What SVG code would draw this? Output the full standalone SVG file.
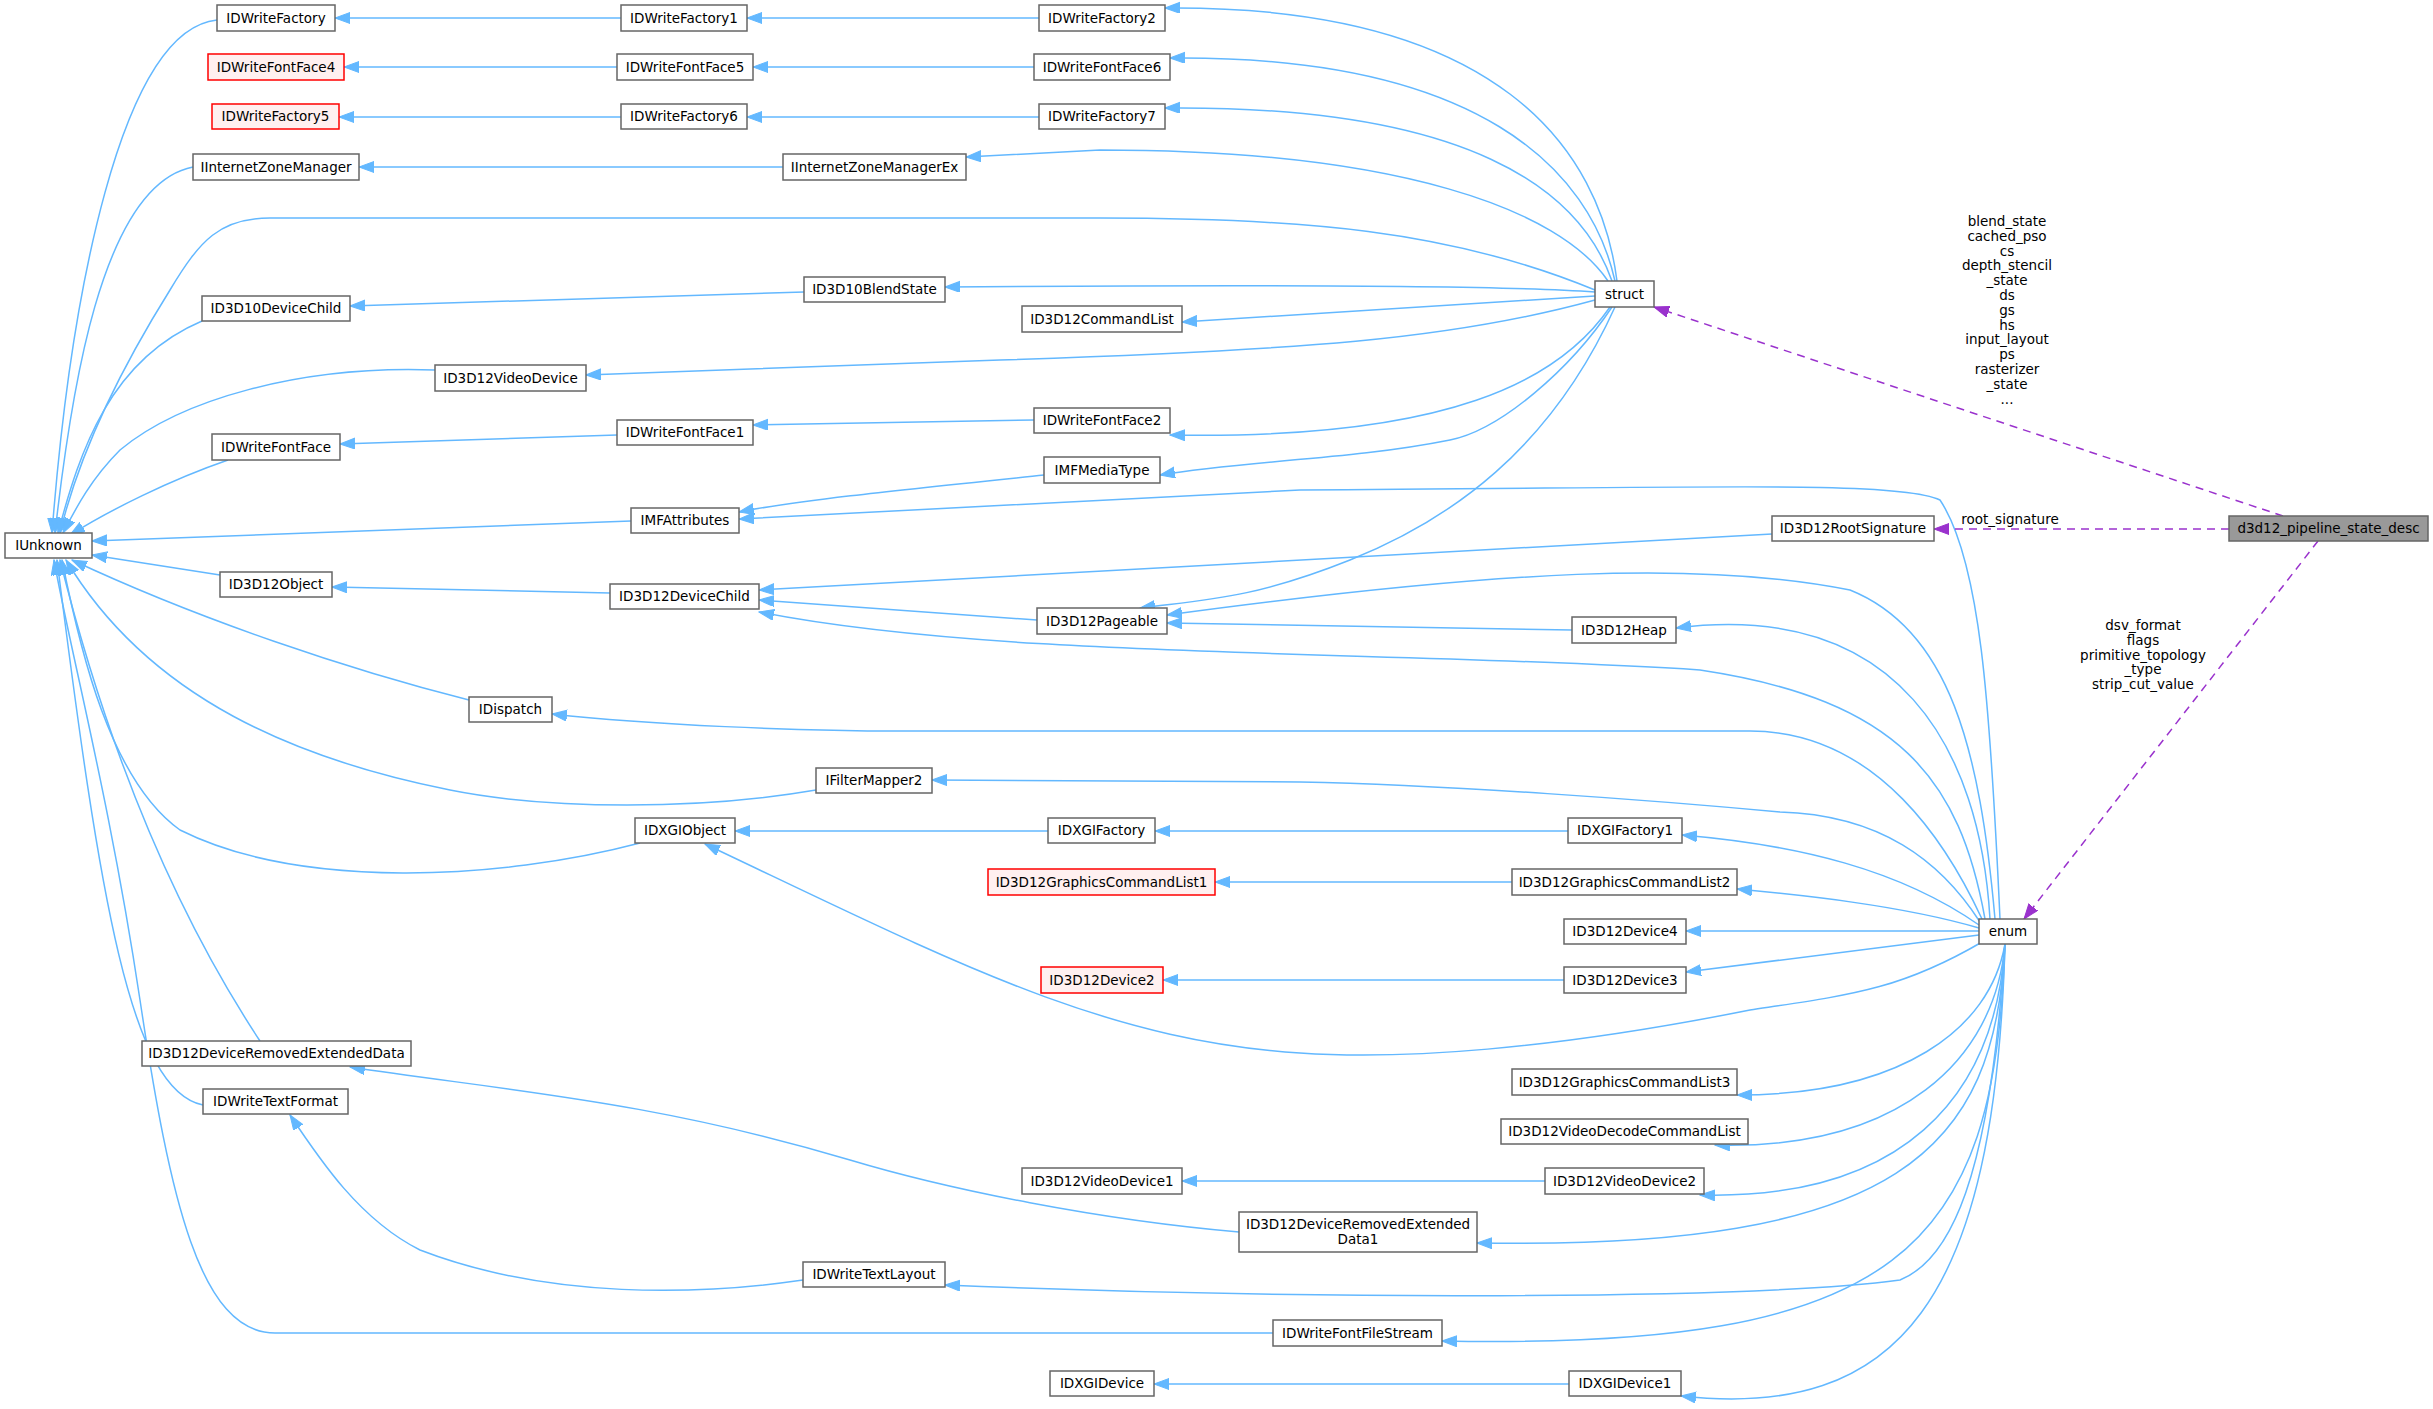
<svg xmlns="http://www.w3.org/2000/svg" width="2433" height="1409" viewBox="0 0 2433 1409">
<style>
.n rect{fill:#fff;stroke:#666;stroke-width:1.5}
.n.r rect{fill:#fff0f0;stroke:#f00}
.n.g rect{fill:#999;stroke:#666}
text{font-family:"DejaVu Sans",sans-serif;font-size:13.5px;fill:#000;text-anchor:middle}
.e path{fill:none;stroke:#63b8ff;stroke-width:1.5}
.d path{fill:none;stroke:#9a32cd;stroke-width:1.5;stroke-dasharray:8,6}
</style>
<defs>
<marker id="a" markerUnits="userSpaceOnUse" markerWidth="16" markerHeight="12" refX="15" refY="5.5" orient="auto"><path d="M0,0 L15,5.5 L0,11 z" fill="#63b8ff" stroke="#63b8ff"/></marker>
<marker id="p" markerUnits="userSpaceOnUse" markerWidth="16" markerHeight="12" refX="15" refY="5.5" orient="auto"><path d="M0,0 L15,5.5 L0,11 z" fill="#9a32cd" stroke="#9a32cd"/></marker>
</defs>
<g class="e" marker-end="url(#a)">
<path d="M217,20 C120,30 70,300 52,533" marker-end="url(#a)"/>
<path d="M193,167 C100,185 70,400 55,533" marker-end="url(#a)"/>
<path d="M1595,290 C1450,230 1300,218 1100,218 L270,218 C220,218 200,240 170,290 C120,370 80,450 60,533" marker-end="url(#a)"/>
<path d="M202,321 C110,360 80,450 58,533" marker-end="url(#a)"/>
<path d="M435,370 C300,365 180,400 120,450 C90,480 75,510 63,533" marker-end="url(#a)"/>
<path d="M228,460 C170,480 110,510 70,535" marker-end="url(#a)"/>
<path d="M631,521 L92,541" marker-end="url(#a)"/>
<path d="M220,575 L92,555" marker-end="url(#a)"/>
<path d="M469,700 C350,670 200,620 72,560" marker-end="url(#a)"/>
<path d="M816,790 C700,810 550,810 450,790 C300,760 150,700 66,560" marker-end="url(#a)"/>
<path d="M640,843 C500,880 300,890 180,830 C110,780 80,650 62,560" marker-end="url(#a)"/>
<path d="M260,1041 C200,950 120,800 60,560" marker-end="url(#a)"/>
<path d="M203,1105 C130,1090 100,900 57,560" marker-end="url(#a)"/>
<path d="M1273,1333 L275,1333 C200,1333 170,1200 140,1000 C110,800 70,650 54,560" marker-end="url(#a)"/>
<path d="M621,18 L335,18" marker-end="url(#a)"/>
<path d="M1039,18 L747,18" marker-end="url(#a)"/>
<path d="M617,67 L344,67" marker-end="url(#a)"/>
<path d="M1034,67 L753,67" marker-end="url(#a)"/>
<path d="M621,117 L339,117" marker-end="url(#a)"/>
<path d="M1039,117 L747,117" marker-end="url(#a)"/>
<path d="M783,167 L359,167" marker-end="url(#a)"/>
<path d="M804,292 L350,306" marker-end="url(#a)"/>
<path d="M617,435 L340,444" marker-end="url(#a)"/>
<path d="M610,593 L332,587" marker-end="url(#a)"/>
<path d="M1048,831 L735,831" marker-end="url(#a)"/>
<path d="M1568,831 L1155,831" marker-end="url(#a)"/>
<path d="M1512,882 L1215,882" marker-end="url(#a)"/>
<path d="M1564,980 L1163,980" marker-end="url(#a)"/>
<path d="M1545,1181 L1182,1181" marker-end="url(#a)"/>
<path d="M1569,1384 L1154,1384" marker-end="url(#a)"/>
<path d="M1239,1232 C1100,1220 950,1190 850,1160 C650,1100 500,1090 350,1067" marker-end="url(#a)"/>
<path d="M803,1280 C700,1295 550,1300 420,1250 C360,1220 320,1160 290,1115" marker-end="url(#a)"/>
<path d="M1044,475 C900,490 800,500 739,512" marker-end="url(#a)"/>
<path d="M1772,534 L759,590" marker-end="url(#a)"/>
<path d="M1037,620 L759,600" marker-end="url(#a)"/>
<path d="M1572,630 L1167,623" marker-end="url(#a)"/>
<path d="M1034,420 L753,425" marker-end="url(#a)"/>
<path d="M1617,281 C1600,150 1500,5 1165,8" marker-end="url(#a)"/>
<path d="M1615,281 C1590,170 1480,55 1170,58" marker-end="url(#a)"/>
<path d="M1612,281 C1580,190 1470,105 1165,108" marker-end="url(#a)"/>
<path d="M1608,281 C1560,210 1400,150 1100,150 L966,157" marker-end="url(#a)"/>
<path d="M1595,292 C1500,285 1200,285 945,287" marker-end="url(#a)"/>
<path d="M1595,296 L1182,322" marker-end="url(#a)"/>
<path d="M1595,300 C1450,340 1300,350 1000,360 L586,375" marker-end="url(#a)"/>
<path d="M1610,307 C1560,380 1450,440 1170,435" marker-end="url(#a)"/>
<path d="M1612,307 C1570,370 1500,430 1450,440 C1350,460 1250,460 1160,475" marker-end="url(#a)"/>
<path d="M1615,307 C1550,450 1450,520 1350,560 C1250,600 1200,600 1140,608" marker-end="url(#a)"/>
<path d="M2000,919 C1990,700 1980,560 1940,500 C1900,480 1700,488 1300,490 L739,519" marker-end="url(#a)"/>
<path d="M1995,919 C1980,750 1950,630 1850,590 C1700,560 1500,570 1167,615" marker-end="url(#a)"/>
<path d="M1990,919 C1980,750 1900,600 1676,628" marker-end="url(#a)"/>
<path d="M1985,919 C1960,780 1900,700 1700,670 C1400,650 1000,660 759,612" marker-end="url(#a)"/>
<path d="M1982,919 C1950,850 1880,731 1750,731 L900,731 C800,731 650,725 552,714" marker-end="url(#a)"/>
<path d="M1980,922 C1940,860 1880,815 1780,812 C1650,800 1450,785 1300,782 L932,780" marker-end="url(#a)"/>
<path d="M1979,925 C1900,870 1800,845 1682,835" marker-end="url(#a)"/>
<path d="M1979,928 C1900,905 1800,895 1737,889" marker-end="url(#a)"/>
<path d="M1979,931 L1686,931" marker-end="url(#a)"/>
<path d="M1979,935 L1686,972" marker-end="url(#a)"/>
<path d="M1982,942 C1900,990 1850,995 1750,1010 C1550,1050 1400,1060 1300,1053 C1100,1040 950,960 705,844" marker-end="url(#a)"/>
<path d="M2005,944 C1990,1030 1900,1095 1737,1095" marker-end="url(#a)"/>
<path d="M2005,944 C1995,1060 1900,1150 1715,1145" marker-end="url(#a)"/>
<path d="M2005,944 C1995,1100 1900,1200 1700,1195" marker-end="url(#a)"/>
<path d="M2005,944 C1995,1150 1900,1250 1477,1243" marker-end="url(#a)"/>
<path d="M2005,944 C1990,1180 1950,1260 1900,1280 C1750,1300 1300,1300 945,1285" marker-end="url(#a)"/>
<path d="M2005,944 C1995,1250 1900,1350 1442,1341" marker-end="url(#a)"/>
<path d="M2005,944 C1995,1300 1900,1420 1681,1396" marker-end="url(#a)"/>
</g>
<g class="d">
<path d="M2283,516 L1654,307" marker-end="url(#p)"/>
<path d="M2229,529 L1934,529" marker-end="url(#p)"/>
<path d="M2318,541 L2024,919" marker-end="url(#p)"/>
</g>
<g id="labels">
<text x="2007" y="226">blend_state</text><text x="2007" y="241">cached_pso</text><text x="2007" y="256">cs</text><text x="2007" y="270">depth_stencil</text><text x="2007" y="285">_state</text><text x="2007" y="300">ds</text><text x="2007" y="315">gs</text><text x="2007" y="330">hs</text><text x="2007" y="344">input_layout</text><text x="2007" y="359">ps</text><text x="2007" y="374">rasterizer</text><text x="2007" y="389">_state</text><text x="2007" y="404">...</text>
<text x="2010" y="524">root_signature</text>
<text x="2143" y="630">dsv_format</text><text x="2143" y="645">flags</text><text x="2143" y="660">primitive_topology</text><text x="2143" y="674">_type</text><text x="2143" y="689">strip_cut_value</text>
</g>
<g id="IUnknown" class="n"><rect x="5" y="533" width="87" height="25"/><text x="48.5" y="550">IUnknown</text></g>
<g id="IDWriteFactory" class="n"><rect x="217" y="5" width="118" height="26"/><text x="276" y="23">IDWriteFactory</text></g>
<g id="IDWriteFactory1" class="n"><rect x="621" y="5" width="126" height="26"/><text x="684" y="23">IDWriteFactory1</text></g>
<g id="IDWriteFactory2" class="n"><rect x="1039" y="5" width="126" height="26"/><text x="1102" y="23">IDWriteFactory2</text></g>
<g id="IDWriteFontFace4" class="n r"><rect x="208" y="54" width="136" height="26"/><text x="276" y="72">IDWriteFontFace4</text></g>
<g id="IDWriteFontFace5" class="n"><rect x="617" y="54" width="136" height="26"/><text x="685" y="72">IDWriteFontFace5</text></g>
<g id="IDWriteFontFace6" class="n"><rect x="1034" y="54" width="136" height="26"/><text x="1102" y="72">IDWriteFontFace6</text></g>
<g id="IDWriteFactory5" class="n r"><rect x="212" y="104" width="127" height="25"/><text x="275.5" y="121">IDWriteFactory5</text></g>
<g id="IDWriteFactory6" class="n"><rect x="621" y="104" width="126" height="25"/><text x="684" y="121">IDWriteFactory6</text></g>
<g id="IDWriteFactory7" class="n"><rect x="1039" y="104" width="126" height="25"/><text x="1102" y="121">IDWriteFactory7</text></g>
<g id="IInternetZoneManager" class="n"><rect x="193" y="154" width="166" height="26"/><text x="276" y="172">IInternetZoneManager</text></g>
<g id="IInternetZoneManagerEx" class="n"><rect x="783" y="154" width="183" height="26"/><text x="874.5" y="172">IInternetZoneManagerEx</text></g>
<g id="ID3D10BlendState" class="n"><rect x="804" y="277" width="141" height="25"/><text x="874.5" y="294">ID3D10BlendState</text></g>
<g id="ID3D10DeviceChild" class="n"><rect x="202" y="296" width="148" height="25"/><text x="276" y="313">ID3D10DeviceChild</text></g>
<g id="struct" class="n"><rect x="1595" y="281" width="59" height="26"/><text x="1624.5" y="299">struct</text></g>
<g id="ID3D12CommandList" class="n"><rect x="1022" y="306" width="160" height="26"/><text x="1102" y="324">ID3D12CommandList</text></g>
<g id="ID3D12VideoDevice" class="n"><rect x="435" y="365" width="151" height="26"/><text x="510.5" y="383">ID3D12VideoDevice</text></g>
<g id="IDWriteFontFace2" class="n"><rect x="1034" y="408" width="136" height="25"/><text x="1102" y="425">IDWriteFontFace2</text></g>
<g id="IDWriteFontFace1" class="n"><rect x="617" y="420" width="136" height="25"/><text x="685" y="437">IDWriteFontFace1</text></g>
<g id="IDWriteFontFace" class="n"><rect x="212" y="434" width="128" height="26"/><text x="276" y="452">IDWriteFontFace</text></g>
<g id="IMFMediaType" class="n"><rect x="1044" y="457" width="116" height="26"/><text x="1102" y="475">IMFMediaType</text></g>
<g id="IMFAttributes" class="n"><rect x="631" y="508" width="108" height="25"/><text x="685" y="525">IMFAttributes</text></g>
<g id="ID3D12RootSignature" class="n"><rect x="1772" y="516" width="162" height="25"/><text x="1853" y="533">ID3D12RootSignature</text></g>
<g id="d3d12_pipeline_state_desc" class="n g"><rect x="2229" y="516" width="199" height="25"/><text x="2328.5" y="533">d3d12_pipeline_state_desc</text></g>
<g id="ID3D12Object" class="n"><rect x="220" y="572" width="112" height="25"/><text x="276" y="589">ID3D12Object</text></g>
<g id="ID3D12DeviceChild" class="n"><rect x="610" y="584" width="149" height="25"/><text x="684.5" y="601">ID3D12DeviceChild</text></g>
<g id="ID3D12Pageable" class="n"><rect x="1037" y="608" width="130" height="26"/><text x="1102" y="626">ID3D12Pageable</text></g>
<g id="ID3D12Heap" class="n"><rect x="1572" y="617" width="104" height="26"/><text x="1624" y="635">ID3D12Heap</text></g>
<g id="IDispatch" class="n"><rect x="469" y="697" width="83" height="25"/><text x="510.5" y="714">IDispatch</text></g>
<g id="IFilterMapper2" class="n"><rect x="816" y="768" width="116" height="25"/><text x="874" y="785">IFilterMapper2</text></g>
<g id="IDXGIObject" class="n"><rect x="635" y="818" width="100" height="25"/><text x="685" y="835">IDXGIObject</text></g>
<g id="IDXGIFactory" class="n"><rect x="1048" y="818" width="107" height="25"/><text x="1101.5" y="835">IDXGIFactory</text></g>
<g id="IDXGIFactory1" class="n"><rect x="1568" y="818" width="114" height="25"/><text x="1625" y="835">IDXGIFactory1</text></g>
<g id="ID3D12GraphicsCommandList1" class="n r"><rect x="988" y="869" width="227" height="26"/><text x="1101.5" y="887">ID3D12GraphicsCommandList1</text></g>
<g id="ID3D12GraphicsCommandList2" class="n"><rect x="1512" y="869" width="225" height="26"/><text x="1624.5" y="887">ID3D12GraphicsCommandList2</text></g>
<g id="ID3D12Device4" class="n"><rect x="1564" y="919" width="122" height="25"/><text x="1625" y="936">ID3D12Device4</text></g>
<g id="enum" class="n"><rect x="1979" y="919" width="58" height="25"/><text x="2008" y="936">enum</text></g>
<g id="ID3D12Device2" class="n r"><rect x="1041" y="967" width="122" height="26"/><text x="1102" y="985">ID3D12Device2</text></g>
<g id="ID3D12Device3" class="n"><rect x="1564" y="967" width="122" height="26"/><text x="1625" y="985">ID3D12Device3</text></g>
<g id="ID3D12DeviceRemovedExtendedData" class="n"><rect x="142" y="1041" width="269" height="25"/><text x="276.5" y="1058">ID3D12DeviceRemovedExtendedData</text></g>
<g id="ID3D12GraphicsCommandList3" class="n"><rect x="1512" y="1069" width="225" height="26"/><text x="1624.5" y="1087">ID3D12GraphicsCommandList3</text></g>
<g id="IDWriteTextFormat" class="n"><rect x="203" y="1089" width="145" height="25"/><text x="275.5" y="1106">IDWriteTextFormat</text></g>
<g id="ID3D12VideoDecodeCommandList" class="n"><rect x="1501" y="1119" width="247" height="25"/><text x="1624.5" y="1136">ID3D12VideoDecodeCommandList</text></g>
<g id="ID3D12VideoDevice1" class="n"><rect x="1022" y="1168" width="160" height="26"/><text x="1102" y="1186">ID3D12VideoDevice1</text></g>
<g id="ID3D12VideoDevice2" class="n"><rect x="1545" y="1168" width="159" height="26"/><text x="1624.5" y="1186">ID3D12VideoDevice2</text></g>
<g id="ID3D12DeviceRemovedExtendedData1" class="n"><rect x="1239" y="1212" width="238" height="40"/><text x="1358" y="1229">ID3D12DeviceRemovedExtended</text><text x="1358" y="1244">Data1</text></g>
<g id="IDWriteTextLayout" class="n"><rect x="803" y="1262" width="142" height="25"/><text x="874" y="1279">IDWriteTextLayout</text></g>
<g id="IDWriteFontFileStream" class="n"><rect x="1273" y="1320" width="169" height="26"/><text x="1357.5" y="1338">IDWriteFontFileStream</text></g>
<g id="IDXGIDevice" class="n"><rect x="1050" y="1371" width="104" height="25"/><text x="1102" y="1388">IDXGIDevice</text></g>
<g id="IDXGIDevice1" class="n"><rect x="1569" y="1371" width="112" height="25"/><text x="1625" y="1388">IDXGIDevice1</text></g>
</svg>
